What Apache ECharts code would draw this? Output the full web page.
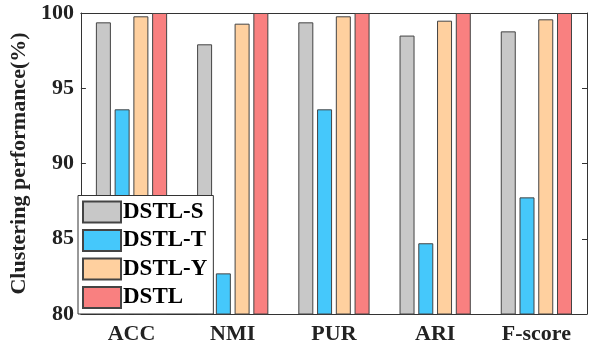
<!DOCTYPE html>
<html>
<head>
<meta charset="utf-8">
<script src="https://cdn.jsdelivr.net/npm/echarts@6/dist/echarts.min.js"></script>
<style>
  html, body { margin: 0; padding: 0; background: #fff; }
  #chart { width: 605px; height: 349px; }
</style>
</head>
<body>
<div id="chart"></div>
<script>
const categories = ['ACC', 'NMI', 'PUR', 'ARI', 'F-score']
const seriesNames = ['DSTL-S', 'DSTL-T', 'DSTL-Y', 'DSTL']
const dstlS = [99.38, 97.92, 99.38, 98.5, 98.78]
const dstlT = [93.6, 82.7, 93.6, 84.7, 87.75]
const dstlY = [99.78, 99.29, 99.78, 99.49, 99.58]
const dstl = [100, 100, 100, 100, 100]
const yTicks = [80, 85, 90, 95, 100]

const colors = ['#c8c8c8', '#45c8fb', '#ffd09f', '#f98080']
const font = '"Liberation Serif", "Times New Roman", serif'

const chart = echarts.init(document.getElementById('chart'))

const values = [dstlS, dstlT, dstlY, dstl]
const series = seriesNames.map((name, i) => ({
  name: name,
  type: 'bar',
  data: values[i],
  barWidth: 15,
  barGap: '25%',
  itemStyle: { color: colors[i], borderColor: '#444', borderWidth: 1 }
}))

chart.setOption({
  animation: false,
  textStyle: { fontFamily: font },
  grid: { left: 78, right: 18, top: 13, bottom: 35 },
  legend: {
    data: seriesNames,
    icon: 'rect',
    orient: 'vertical',
    left: 78,
    bottom: 35,
    itemWidth: 38,
    itemHeight: 21,
    itemGap: 5.5,
    padding: [5, 6, 5, 4],
    backgroundColor: '#fff',
    borderColor: '#333',
    borderWidth: 1,
    textStyle: { fontFamily: font, fontWeight: 'bold', fontSize: 23, color: '#000', padding: [0, 0, 0, -3] }
  },
  xAxis: [
    {
      type: 'category',
      data: categories,
      axisLine: { lineStyle: { color: '#333' } },
      axisTick: { inside: true, alignWithLabel: true, length: 5, lineStyle: { color: '#333' } },
      axisLabel: { fontFamily: font, fontWeight: 'bold', fontSize: 22, color: '#222', margin: 9 }
    },
    {
      type: 'category',
      data: categories,
      position: 'top',
      axisLine: { lineStyle: { color: '#333' } },
      axisTick: { inside: true, alignWithLabel: true, length: 5, lineStyle: { color: '#333' } },
      axisLabel: { show: false }
    }
  ],
  yAxis: [
    {
      type: 'value',
      min: yTicks[0],
      max: yTicks[yTicks.length - 1],
      interval: 5,
      name: 'Clustering performance(%)',
      nameLocation: 'middle',
      nameGap: 46,
      nameTextStyle: { fontFamily: font, fontWeight: 'bold', fontSize: 22, color: '#222' },
      axisLine: { show: true, lineStyle: { color: '#333' } },
      axisTick: { show: true, inside: true, length: 5, lineStyle: { color: '#333' } },
      axisLabel: { fontFamily: font, fontWeight: 'bold', fontSize: 22, color: '#222', margin: 7 },
      splitLine: { show: false }
    },
    {
      type: 'value',
      min: yTicks[0],
      max: yTicks[yTicks.length - 1],
      interval: 5,
      position: 'right',
      axisLine: { show: true, lineStyle: { color: '#333' } },
      axisTick: { show: true, inside: true, length: 5, lineStyle: { color: '#333' } },
      axisLabel: { show: false },
      splitLine: { show: false }
    }
  ],
  series: series
})
</script>
</body>
</html>
